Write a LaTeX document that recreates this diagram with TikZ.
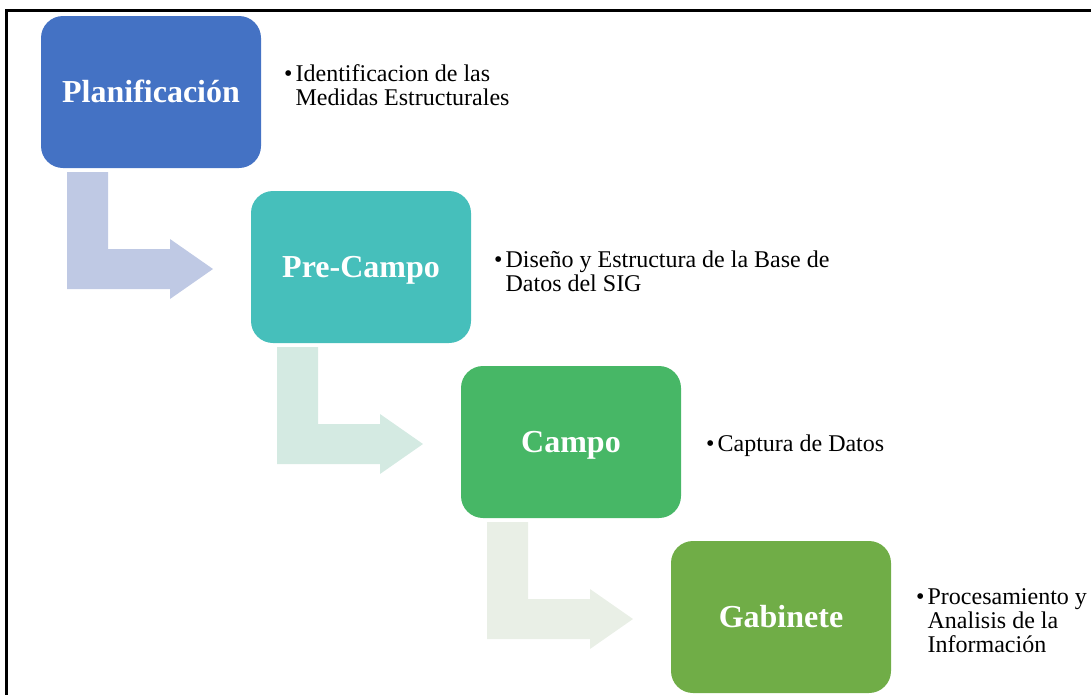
\documentclass[tikz,border=0pt]{standalone}
\usepackage{fontspec}
\setmainfont{Liberation Serif}
\usetikzlibrary{positioning,calc}

\definecolor{planAzul}{HTML}{4472C4}
\definecolor{preTeal}{HTML}{46BFBB}
\definecolor{campoVerde}{HTML}{47B766}
\definecolor{gabVerde}{HTML}{70AD47}
\definecolor{flechaA}{HTML}{BFC9E4}
\definecolor{flechaB}{HTML}{D4EAE2}
\definecolor{flechaC}{HTML}{E9EFE6}

\newcommand{\vineta}[1]{\textbullet\hspace{3pt}\begin{tabular}[t]{@{}l@{}}#1\end{tabular}}

\begin{document}
\begin{tikzpicture}[x=1pt, y=-1pt, fase/.style={rounded corners=22pt, minimum width=220pt, minimum height=152pt, inner sep=0pt, outer sep=0pt, text=white, font=\fontsize{32}{32}\selectfont\bfseries, text height=20pt, text depth=0pt}, nota/.style={anchor=base west, inner sep=0pt, font=\fontsize{24}{24}\selectfont}]
\clip (0,0) rectangle (1091,694);
\draw[line width=3pt] (6,10.8) rectangle (1110,720);
\node[fase, fill=planAzul] (plan) at (151,92) {Planificación};
\node[fase, fill=preTeal, below right=23pt and -10pt of plan] (pre) {Pre-Campo};
\node[fase, fill=campoVerde, below right=23pt and -10pt of pre] (campo) {Campo};
\node[fase, fill=gabVerde, below right=23pt and -10pt of campo] (gab) {Gabinete};
% flechas en L
\foreach \f/\c in {plan/flechaA, pre/flechaB, campo/flechaC}
  \fill[fill=\c, shift={(\f.south west)}] (26,4) -- (67,4) -- (67,81) -- (129,81) -- (129,71) -- (172,101) -- (129,131) -- (129,121) -- (26,121) -- cycle;
\node[nota] (tplan) at ($(plan.east)+(23,-11)$) {\vineta{Identificacion de las\\Medidas Estructurales}};
\node[nota] (tpre) at ($(pre.east)+(23,0)$) {\vineta{Diseño y Estructura de la Base de\\Datos del SIG}};
\node[nota] (tcampo) at ($(campo.east)+(25,9)$) {\vineta{Captura de Datos}};
\node[nota] (tgab) at ($(gab.east)+(25,-13)$) {\vineta{Procesamiento y\\Analisis de la\\Información}};
\end{tikzpicture}
\end{document}
